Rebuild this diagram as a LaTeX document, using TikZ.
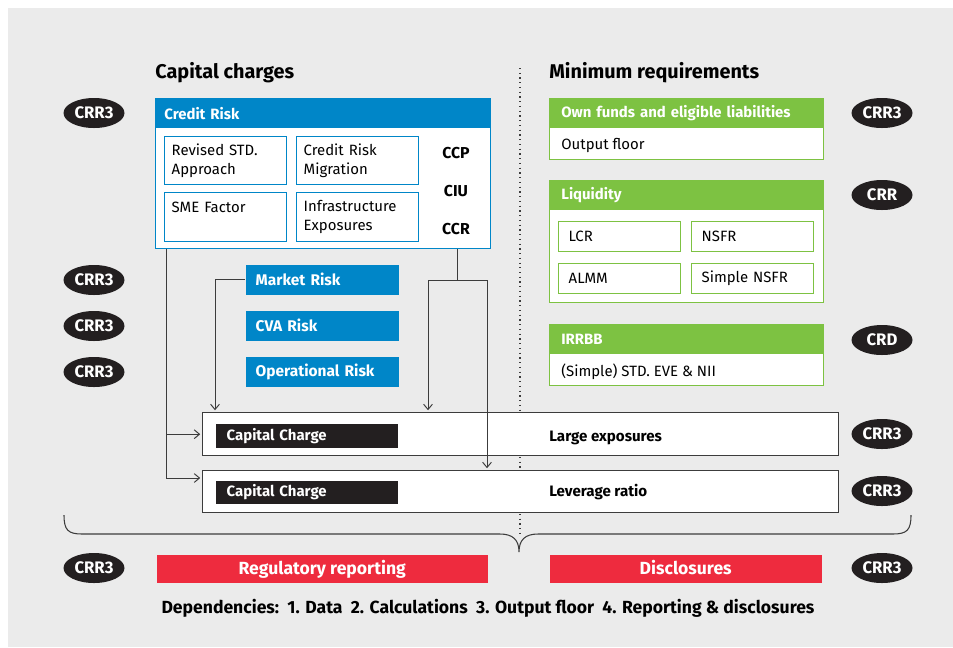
\documentclass[tikz,border=0pt]{standalone}
\usepackage{fontspec}
\setmainfont{Fira Sans}
\usetikzlibrary{arrows.meta}
\usetikzlibrary{calc}
\usetikzlibrary{shapes.geometric}
\usepackage{xcolor}

\definecolor{ecbblue}{HTML}{0086C8}
\definecolor{ecbgreen}{HTML}{7DC242}
\definecolor{ecbred}{HTML}{EE2B3E}
\definecolor{ecbblack}{HTML}{231F20}
\definecolor{panelgray}{HTML}{EBEBEB}
\definecolor{wiregray}{HTML}{3C3C3C}

\newcommand{\pxu}{0.02cm}

\tikzset{
  wh/.style 2 args={minimum width=#1*\pxu, minimum height=#2*\pxu},
  frame/.style={fill=white, anchor=north west, inner sep=0pt, line width=0.8pt},
  head/.style 2 args={anchor=north west, fill=ecbblue, text=white, minimum height=30*\pxu,
    text width=#1*\pxu, inner xsep=#2*\pxu, inner ysep=0pt, align=left,
    font=\fontsize{8.5}{11}\selectfont\bfseries},
  cell/.style={frame, line width=0.8pt, minimum height=48*\pxu, text width=108*\pxu,
    inner xsep=7*\pxu, align=left},
  riskbox/.style={frame, fill=ecbblue, text=white, minimum height=30*\pxu, text width=133*\pxu,
    inner xsep=10*\pxu, align=left, font=\fontsize{8.8}{11}\selectfont\bfseries},
  chargebox/.style={frame, fill=ecbblack, text=white, text width=160*\pxu, inner xsep=11*\pxu,
    align=left, font=\fontsize{8.5}{10}\selectfont\bfseries},
  redbox/.style={frame, fill=ecbred, text=white, text height=1.6ex, text depth=0.4ex,
    font=\fontsize{10}{12}\selectfont\bfseries},
  badge/.style={ellipse, fill=ecbblack, text=white, minimum width=61*\pxu, minimum height=30*\pxu,
    inner sep=0pt, font=\fontsize{9.5}{11}\selectfont\bfseries},
  title/.style={anchor=west, inner sep=0pt, font=\fontsize{11.3}{14}\selectfont\bfseries},
  tag/.style={inner sep=0pt, font=\fontsize{9}{11}\selectfont\bfseries},
  rowtext/.style={anchor=base west, inner sep=0pt, font=\fontsize{8.6}{11}\selectfont\bfseries},
  wire/.style={draw=wiregray, line width=0.55pt, -{Straight Barb[length=3pt,width=5pt]}, shorten >=1pt},
}

\begin{document}
\begin{tikzpicture}[x=0.02cm,y=-0.02cm, font=\fontsize{8.5}{10.8}\selectfont]
  % Background
  \fill[panelgray] (8,8) rectangle (953,647);
  \useasboundingbox (0,0) rectangle (953,647);

  % Titles
  \node[title] (capTitle) at (155,73) {Capital charges};
  \node[title] (minTitle) at (549,73) {Minimum requirements};

  % Divider
  \draw[dotted, line width=0.7pt, wiregray] (520,68) -- (520,537);

  % Credit risk
  \node[frame, draw=ecbblue, wh={335}{150}] (credit) at (155,98) {};
  \node[head={317}{9}] (creditHead) at (credit.north west) {Credit Risk};
  \node[cell, draw=ecbblue] (rsa) at (164,136) {Revised STD.\\Approach};
  \node[cell, draw=ecbblue] (crm) at (296,136) {Credit Risk\\Migration};
  \node[cell, draw=ecbblue, minimum height=49*\pxu] (sme) at (164,192) {SME Factor\\\mbox{}};
  \node[cell, draw=ecbblue, minimum height=49*\pxu] (infra) at (296,192) {Infrastructure\\Exposures};
  \foreach \y/\lab in {153/CCP,191/CIU,229/CCR}
    \node[tag] (\lab) at (456,\y) {\lab};

  % Other risks
  \node[riskbox] (market) at (245,264) {Market Risk};
  \node[riskbox] (cva) at (245,310) {CVA Risk};
  \node[riskbox] (oprisk) at (245,356) {Operational Risk};

  % Large exposures and leverage ratio
  \node[frame, draw=wiregray, wh={636}{43}] (large) at (202,412) {};
  \node[chargebox, minimum height=24*\pxu] (chargeA) at (215,423) {Capital Charge};
  \node[rowtext] (largeText) at (549,441) {Large exposures};
  \node[frame, draw=wiregray, wh={636}{42}] (leverage) at (202,470) {};
  \node[chargebox, minimum height=23*\pxu] (chargeB) at (215,480) {Capital Charge};
  \node[rowtext] (leverageText) at (549,496) {Leverage ratio};

  % Minimum requirements
  \node[frame, draw=ecbgreen, wh={274}{61}] (ownfunds) at (549,98) {};
  \node[head={250}{12}, fill=ecbgreen] (ownHead) at (ownfunds.north west) {Own funds and eligible liabilities};
  \node[anchor=base west, inner sep=0pt] (floor) at (561,149) {Output floor};

  \node[frame, draw=ecbgreen, wh={274}{122}] (liquidity) at (549,180) {};
  \node[head={250}{12}, fill=ecbgreen] (liqHead) at (liquidity.north west) {Liquidity};
  \node[cell, draw=ecbgreen, minimum height=30*\pxu, text width=102*\pxu, inner xsep=10*\pxu] (lcr) at (558,221) {LCR};
  \node[cell, draw=ecbgreen, minimum height=30*\pxu, text width=102*\pxu, inner xsep=10*\pxu] (nsfr) at (691,221) {NSFR};
  \node[cell, draw=ecbgreen, minimum height=30*\pxu, text width=102*\pxu, inner xsep=10*\pxu] (almm) at (558,263) {ALMM};
  \node[cell, draw=ecbgreen, minimum height=30*\pxu, text width=102*\pxu, inner xsep=10*\pxu] (snsfr) at (691,263) {Simple NSFR};

  \node[frame, draw=ecbgreen, wh={274}{61}] (irrbb) at (549,324) {};
  \node[head={250}{12}, fill=ecbgreen] (irrbbHead) at (irrbb.north west) {IRRBB};
  \node[anchor=base west, inner sep=0pt] (eve) at (561,376) {(Simple) STD. EVE \& NII};

  % Connectors
  \coordinate (split) at (457,280);
  \draw[wiregray, line width=0.55pt] (split |- credit.south) -- (split);
  \draw[wire] (split) -| ($(large.north west)+(226,0)$);
  \draw[wire] (split) -| ($(leverage.north west)+(285,0)$);
  \draw[wire] (market.west) -| ($(large.north west)+(13,0)$);
  \draw[wire] ($(credit.south west)+(11,0)$) |- (large.west);
  \draw[wire] ($(credit.south west)+(11,0)$) |- ($(leverage.north west)+(0,8)$);

  % Brace
  \draw[wiregray, line width=0.6pt] (64,515) .. controls (64,530) and (68,534) .. (82,534)
    -- (500,534) .. controls (513,534) and (519,540) .. (519,552)
    .. controls (519,540) and (525,534) .. (538,534) -- (893,534)
    .. controls (907,534) and (911,530) .. (911,515);

  % Reporting
  \node[redbox, wh={331}{28}] (regrep) at (156,554) {Regulatory reporting};
  \node[redbox, wh={272}{28}] (disc) at (549,554) {Disclosures};
  \node[font=\fontsize{10}{12}\selectfont\bfseries] (deps) at (488,608)
    {Dependencies:\ \ 1. Data\ \ 2. Calculations\ \ 3. Output floor\ \ 4. Reporting \& disclosures};

  % Regulation badges
  \foreach \n/\x/\y/\lab in {a/94/113/CRR3, b/94/280/CRR3, c/94/326/CRR3, d/94/372/CRR3,
      e/94/568/CRR3, f/882/113/CRR3, g/882/195/CRR, h/882/340/CRD, i/882/434/CRR3,
      j/882/491/CRR3, k/882/568/CRR3}
    \node[badge] (badge-\n) at (\x,\y) {\lab};
\end{tikzpicture}
\end{document}
